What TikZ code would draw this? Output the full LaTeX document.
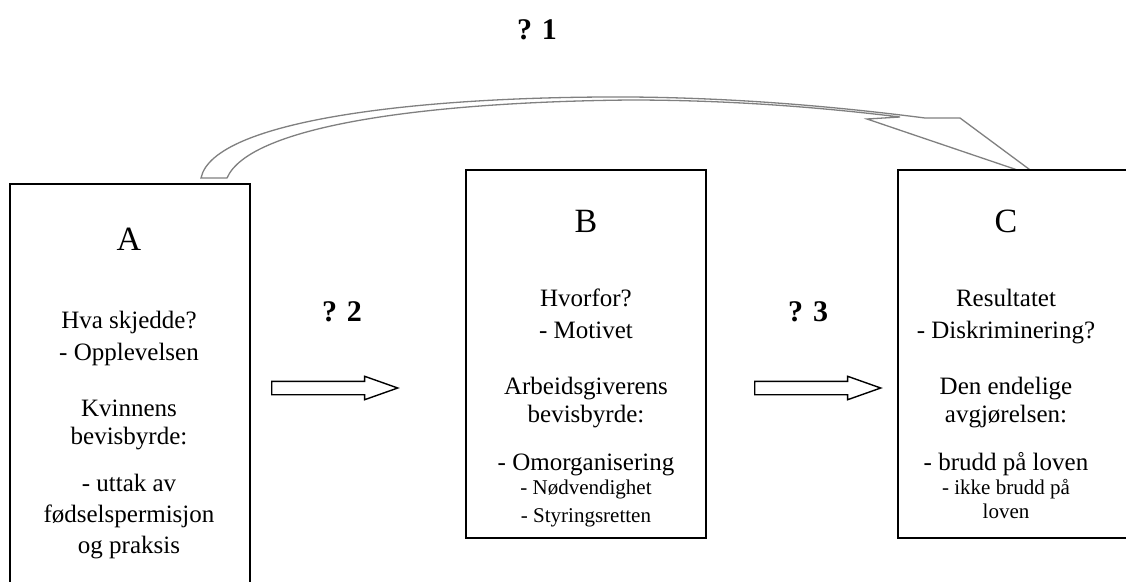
\documentclass[tikz,border=0pt]{standalone}
\usepackage{fontspec}
\setmainfont{Liberation Serif}
\usetikzlibrary{shapes.arrows,calc}
\pgfdeclarelayer{bg}\pgfsetlayers{bg,main}
\definecolor{arcgray}{gray}{0.5}
\tikzset{box/.style={draw,fill=white,line width=1.6pt,inner sep=0pt,anchor=north west,minimum width=240pt},
bigl/.style={font=\fontsize{34}{38}\selectfont,inner sep=0pt},lnt/.style={font=\fontsize{25}{29}\selectfont,inner sep=0pt},
smt/.style={font=\fontsize{21}{24}\selectfont,inner sep=0pt},qlbl/.style={font=\bfseries\fontsize{30}{34}\selectfont,inner sep=0pt},
barr/.style={draw,line width=1.4pt,single arrow,minimum height=126pt,inner xsep=0pt,inner ysep=6pt,single arrow head extend=5pt,single arrow tip angle=39},
hollow/.style={draw=arcgray,fill=white,line width=1.3pt,line join=miter}}

\begin{document}
\begin{tikzpicture}[x=1pt,y=-1pt]
\useasboundingbox(0,0)rectangle(1126,581);\clip(0,0)rectangle(1126,581);
\node[box,minimum height=430pt](A)at(9,183){};\node[box,minimum height=368pt](B)at(465,169){};\node[box,minimum height=368pt](C)at(897,169){};
\foreach\s/\d/\f[count=\i]in{A/67/bigl,Hva skjedde?/145/lnt,- Opplevelsen/177/lnt,Kvinnens/233/lnt,bevisbyrde:/261/lnt,- uttak av/308/lnt,fødselspermisjon/339/lnt,og praksis/370/lnt}
  \node[\f,anchor=base](a\i)at($(A.north west)+(120,\d)$){\s};
\foreach\s/\d/\f[count=\i]in{B/63/bigl,Hvorfor?/137/lnt,- Motivet/169/lnt,Arbeidsgiverens/225/lnt,bevisbyrde:/253/lnt,- Omorganisering/301/lnt,- Nødvendighet/325/smt,- Styringsretten/353/smt}
  \node[\f,anchor=base](b\i)at($(B.north west)+(121,\d)$){\s};
\foreach\s/\d/\f[count=\i]in{C/63/bigl,Resultatet/137/lnt,- Diskriminering?/169/lnt,Den endelige/225/lnt,avgjørelsen:/253/lnt,- brudd på loven/301/lnt,- ikke brudd på/325/smt,loven/349/smt}
  \node[\f,anchor=base](c\i)at($(C.north west)+(109,\d)$){\s};
\node[qlbl](q1)at(537,30){? 1};\node[qlbl](q2)at(342,312){? 2};\node[qlbl](q3)at(808,312){? 3};
\node[barr,anchor=tail](p2)at(271,388){};\node[barr,anchor=tail](p3)at(754,388){};
% curved arrow from A to C, tip hidden under C
\begin{pgfonlayer}{bg}
\draw[hollow]($(A.north west)+(192,-5)$).. controls (213,120) and (420,96) ..(630,97).. controls (760,98) and (870,111) ..(925,118)--(960,118)
  --($(C.north west)+(144,9)$)--(867,119)--(900,117).. controls (810,106) and (720,100) ..(630,100).. controls (430,102) and (250,125) ..($(A.north west)+(218,-5)$)--cycle;
\end{pgfonlayer}
\end{tikzpicture}
\end{document}
